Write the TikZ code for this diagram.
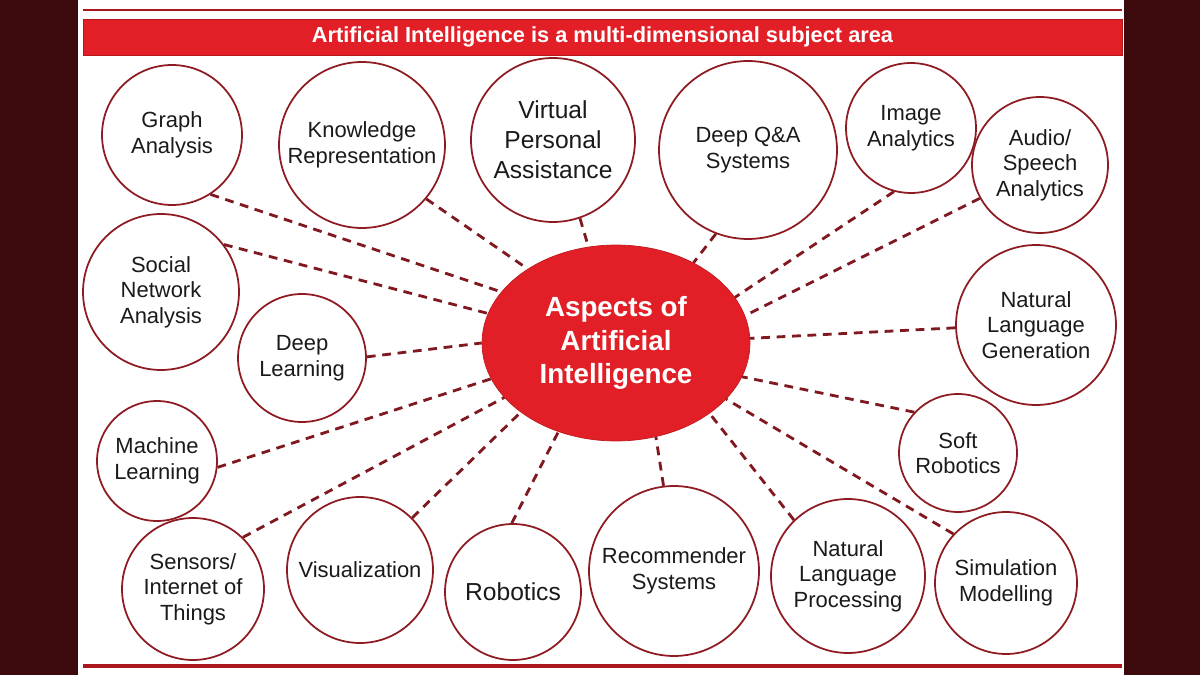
\documentclass[tikz,border=0pt]{standalone}
\usepackage{fontspec}
\setmainfont{Liberation Sans}
\usetikzlibrary{shapes.geometric}

\definecolor{aired}{HTML}{E21F26}
\definecolor{airim}{HTML}{8E1B22}
\definecolor{aiback}{HTML}{3C0A0C}
\definecolor{aitext}{HTML}{1A1A1A}

\tikzset{
  topic/.style={circle, draw=airim, line width=1pt, fill=white, inner sep=0pt,
    align=center, text=aitext, font=\fontsize{12.5}{14.6}\selectfont},
  bigtopic/.style={topic, font=\fontsize{14}{17}\selectfont},
  link/.style={draw=airim!90!black, line width=1.6pt, dash pattern=on 5pt off 3.8pt},
}

\begin{document}
\begin{tikzpicture}[x=0.02cm, y=-0.02cm]
  \useasboundingbox (0,0) rectangle (1200,675);
  % frame
  \fill[aiback] (0,0) rectangle (1200,675);
  \fill[white] (78,0) rectangle (1124,675);
  \draw[aired!75!black, line width=1.7pt] (83,10) -- (1122,10);
  \draw[aired!75!black, line width=2pt] (83,666) -- (1122,666);
  \node[fill=aired, draw=aired!80!black, minimum width=20.78cm, minimum height=0.72cm,
    inner sep=0pt, text=white, font=\bfseries\fontsize{12.4}{14}\selectfont]
    (banner) at (602.5,37) {Artificial Intelligence is a multi-dimensional subject area};

  % hub
  \node[ellipse, fill=aired, draw=aired!85!black, minimum width=5.36cm, minimum height=3.92cm,
    inner sep=0pt, align=center, text=white, font=\bfseries\fontsize{15.8}{19}\selectfont]
    (hub) at (616,343) {Aspects of\\Artificial\\Intelligence};

  % topics, top row
  \node[topic, minimum size=2.8cm] (ga) at (172,135) {Graph\\Analysis};
  \node[topic, minimum size=3.32cm] (kr) at (362,145) {Knowledge\\Representation};
  \node[bigtopic, minimum size=3.28cm] (vpa) at (553,140) {Virtual\\Personal\\Assistance};
  \node[topic, minimum size=3.56cm] (dqa) at (748,150) {Deep Q\&A\\Systems};
  \node[topic, minimum size=2.6cm] (ia) at (911,128) {Image\\Analytics};
  \node[topic, minimum size=2.72cm] (asa) at (1040,165) {Audio/\\Speech\\Analytics};
  % left side
  \node[topic, minimum size=3.12cm] (sna) at (161,292) {Social\\Network\\Analysis};
  \node[topic, minimum size=2.56cm] (dl) at (302,358) {Deep\\Learning};
  \node[topic, minimum size=2.4cm] (ml) at (157,461) {Machine\\Learning};
  % bottom row
  \node[topic, minimum size=2.84cm] (iot) at (193,589) {Sensors/\\Internet of\\Things};
  \node[topic, minimum size=2.92cm] (vis) at (360,570) {Visualization};
  \node[bigtopic, minimum size=2.72cm] (rob) at (513,592) {Robotics};
  \node[topic, minimum size=3.4cm] (rec) at (674,571) {Recommender\\Systems};
  \node[topic, minimum size=3.08cm] (nlp) at (848,576) {Natural\\Language\\Processing};
  \node[topic, minimum size=2.84cm] (sim) at (1006,583) {Simulation\\Modelling};
  % right side
  \node[topic, minimum size=2.36cm] (sr) at (958,453) {Soft\\Robotics};
  \node[topic, minimum size=3.2cm] (nlg) at (1036,325) {Natural\\Language\\Generation};

  % dashed links to the hub
  \draw[link] (ga.303) -- (hub.156);
  \draw[link] (sna.37) -- (hub.167);
  \draw[link] (kr.320) -- (hub.140);
  \draw[link] (vpa.289) -- (hub.106);
  \draw[link] (dqa.249) -- (hub.46);
  \draw[link] (ia.255) -- (hub.21);
  \draw[link] (asa.209) -- (hub.12);
  \draw[link] (nlg.182) -- (hub.2);
  \draw[link] (sr.137) -- (hub.-15);
  \draw[link] (sim.137) -- (hub.-27);
  \draw[link] (nlp.134) -- (hub.-37);
  \draw[link] (rec.97) -- (hub.-67);
  \draw[link] (rob.91) -- (hub.237);
  \draw[link] (vis.45) -- (hub.216);
  \draw[link] (iot.46) -- (hub.206);
  \draw[link] (ml.-6) -- (hub.196);
  \draw[link] (dl.1) -- (hub.180);
\end{tikzpicture}
\end{document}
